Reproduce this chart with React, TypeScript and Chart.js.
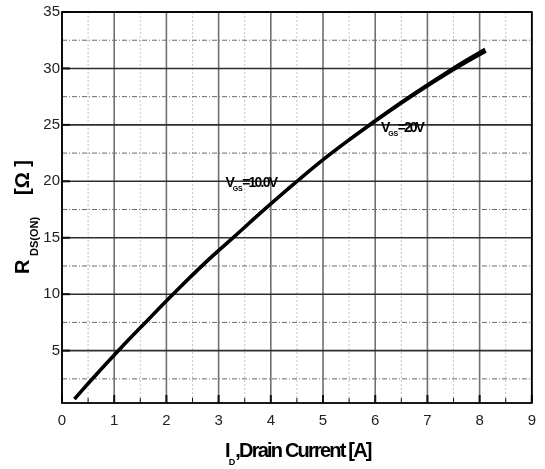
import React, { useEffect, useRef } from "react";
import { Chart, registerables } from "chart.js";

Chart.register(...registerables);

// ---- data ----
const xMin = 0;
const xMax = 9;
const yMin = 0.36;
const yMax = 35;
const xMajorTicks = [0, 1, 2, 3, 4, 5, 6, 7, 8, 9];
const xMinorTicks = [0.5, 1.5, 2.5, 3.5, 4.5, 5.5, 6.5, 7.5, 8.5];
const yMajorTicks = [5, 10, 15, 20, 25, 30, 35];
const yMinorTicks = [2.5, 7.5, 12.5, 17.5, 22.5, 27.5, 32.5];

const currentVgs10 = [0.24, 0.6, 1.1, 1.6, 2.15, 2.7, 3.3, 3.9, 4.5, 5.15, 5.9, 6.7, 7.5, 8.12];
const rdsVgs10 = [0.72, 2.6, 5.1, 7.5, 10.1, 12.6, 15.1, 17.6, 20.0, 22.45, 25.0, 27.55, 29.9, 31.55];
const currentVgs20 = [0.24, 1.1, 2.15, 3.3, 4.5, 5.15, 5.9, 6.7, 7.5, 8.1];
const rdsVgs20 = [0.72, 5.1, 10.1, 15.1, 20.0, 22.5, 25.1, 27.7, 30.1, 31.75];

const xTitleMain = "I";
const xTitleSub = "D";
const xTitleRest = ",Drain Current [A]";
const yTitleMain = "R";
const yTitleSub = "DS(ON)";
const yTitleRest = "[Ω ]";
const label10 = { main: "V", sub: "GS", rest: "=10.0V" };
const label20 = { main: "V", sub: "GS", rest: "=20V" };

const FONT = '"Liberation Sans", Arial, Helvetica, sans-serif';

type Seg = { text: string; size: number; dy: number; spacing: number; gap?: number };

function drawRich(ctx: CanvasRenderingContext2D, x: number, y: number, segs: Seg[], rotate = false) {
  ctx.save();
  ctx.translate(x, y);
  if (rotate) ctx.rotate(-Math.PI / 2);
  ctx.fillStyle = "#000";
  ctx.textAlign = "left";
  ctx.textBaseline = "alphabetic";
  let cx = 0;
  for (const s of segs) {
    if (s.gap !== undefined) cx = s.gap;
    ctx.font = `bold ${s.size}px ${FONT}`;
    (ctx as any).letterSpacing = `${s.spacing}px`;
    ctx.fillText(s.text, cx, s.dy);
    cx += ctx.measureText(s.text).width;
  }
  (ctx as any).letterSpacing = "0px";
  ctx.restore();
}

const gridPlugin = {
  id: "customGrid",
  beforeDatasetsDraw(chart: any) {
    const { ctx, chartArea: a, scales } = chart;
    const x = scales.x;
    const y = scales.y;
    const vline = (v: number) => {
      const px = x.getPixelForValue(v);
      ctx.beginPath();
      ctx.moveTo(px, a.top);
      ctx.lineTo(px, a.bottom);
      ctx.stroke();
    };
    const hline = (v: number) => {
      const py = y.getPixelForValue(v);
      ctx.beginPath();
      ctx.moveTo(a.left, py);
      ctx.lineTo(a.right, py);
      ctx.stroke();
    };
    ctx.save();
    ctx.strokeStyle = "#c4c4c4";
    ctx.lineWidth = 1;
    ctx.setLineDash([2, 2]);
    xMinorTicks.forEach(vline);
    ctx.strokeStyle = "#6a6a6a";
    ctx.setLineDash([5, 2, 1, 2]);
    yMinorTicks.forEach(hline);
    ctx.setLineDash([]);
    ctx.strokeStyle = "#707070";
    ctx.lineWidth = 1.6;
    xMajorTicks.forEach(vline);
    ctx.strokeStyle = "#2e2e2e";
    ctx.lineWidth = 1.6;
    yMajorTicks.forEach(hline);
    ctx.strokeStyle = "#111";
    ctx.lineWidth = 2;
    xMajorTicks.forEach((v) => {
      const px = x.getPixelForValue(v);
      ctx.beginPath();
      ctx.moveTo(px, a.bottom);
      ctx.lineTo(px, a.bottom - 8);
      ctx.stroke();
    });
    ctx.lineWidth = 1;
    xMinorTicks.forEach((v) => {
      const px = x.getPixelForValue(v);
      ctx.beginPath();
      ctx.moveTo(px, a.bottom);
      ctx.lineTo(px, a.bottom - 5);
      ctx.stroke();
    });
    ctx.lineWidth = 2;
    yMajorTicks.forEach((v) => {
      const py = y.getPixelForValue(v);
      ctx.beginPath();
      ctx.moveTo(a.left, py);
      ctx.lineTo(a.left + 8, py);
      ctx.stroke();
    });
    ctx.strokeStyle = "#000";
    ctx.lineWidth = 1.8;
    ctx.strokeRect(a.left, a.top, a.right - a.left, a.bottom - a.top);
    ctx.restore();
  },
  afterDraw(chart: any) {
    const { ctx, scales } = chart;
    const x = scales.x;
    const y = scales.y;
    drawRich(ctx, 225, 456.7, [
      { text: xTitleMain, size: 20, dy: 0, spacing: -1.8 },
      { text: xTitleSub, size: 9, dy: 8, spacing: 0 },
      { text: xTitleRest, size: 20, dy: 0, spacing: -1.8 },
    ]);
    drawRich(
      ctx,
      29.3,
      274,
      [
        { text: yTitleMain, size: 20, dy: 0, spacing: 0 },
        { text: yTitleSub, size: 11, dy: 8.5, spacing: 0, gap: 18 },
        { text: yTitleRest, size: 20, dy: 0, spacing: 0, gap: 79 },
      ],
      true
    );
    const l10x = x.getPixelForValue(3.13);
    const l10y = y.getPixelForValue(19.53);
    drawRich(ctx, l10x, l10y, [
      { text: label10.main, size: 14, dy: 0, spacing: -2 },
      { text: label10.sub, size: 7, dy: 4, spacing: -0.3 },
      { text: label10.rest, size: 14, dy: 0, spacing: -1.8 },
    ]);
    const l20x = x.getPixelForValue(6.11);
    const l20y = y.getPixelForValue(24.36);
    drawRich(ctx, l20x, l20y, [
      { text: label20.main, size: 14, dy: 0, spacing: -2 },
      { text: label20.sub, size: 7, dy: 4, spacing: -0.3 },
      { text: label20.rest, size: 14, dy: 0, spacing: -2 },
    ]);
  },
};

export default function App() {
  const ref = useRef<HTMLCanvasElement | null>(null);
  useEffect(() => {
    if (!ref.current) return;
    const chart = new Chart(ref.current, {
      type: "line",
      data: {
        datasets: [
          {
            label: "VGS=10.0V",
            data: currentVgs10.map((v, i) => ({ x: v, y: rdsVgs10[i] })),
            borderColor: "#000",
            borderWidth: 3.6,
            pointRadius: 0,
            tension: 0.4,
            fill: false,
          },
          {
            label: "VGS=20V",
            data: currentVgs20.map((v, i) => ({ x: v, y: rdsVgs20[i] })),
            borderColor: "#000",
            borderWidth: 2.2,
            pointRadius: 0,
            tension: 0.4,
            fill: false,
          },
        ],
      },
      options: {
        responsive: false,
        animation: false,
        layout: { padding: { top: 12, right: 12, left: 0, bottom: 0 } },
        plugins: { legend: { display: false }, tooltip: { enabled: false }, title: { display: false } },
        scales: {
          x: {
            type: "linear",
            min: xMin,
            max: xMax,
            afterBuildTicks: (s: any) => {
              s.ticks = xMajorTicks.map((v) => ({ value: v }));
            },
            afterFit: (s: any) => {
              s.height = 66;
            },
            grid: { display: false, drawTicks: false },
            border: { display: false },
            ticks: {
              padding: 9,
              color: "#222",
              font: { family: FONT, size: 15 },
              maxRotation: 0,
              autoSkip: false,
              callback: (v: any) => String(v),
            },
          },
          y: {
            type: "linear",
            min: yMin,
            max: yMax,
            afterBuildTicks: (s: any) => {
              s.ticks = yMajorTicks.map((v) => ({ value: v }));
            },
            afterFit: (s: any) => {
              s.width = 62;
            },
            grid: { display: false, drawTicks: false },
            border: { display: false },
            ticks: {
              padding: 2,
              color: "#222",
              font: { family: FONT, size: 15 },
              autoSkip: false,
              callback: (v: any) => String(v),
            },
          },
        },
      },
      plugins: [gridPlugin],
    });
    return () => chart.destroy();
  }, []);
  return (
    <div style={{ position: "absolute", left: 0, top: 0, width: 545, height: 469, background: "#fff" }}>
      <canvas ref={ref} width={545} height={469} style={{ display: "block" }} />
    </div>
  );
}
